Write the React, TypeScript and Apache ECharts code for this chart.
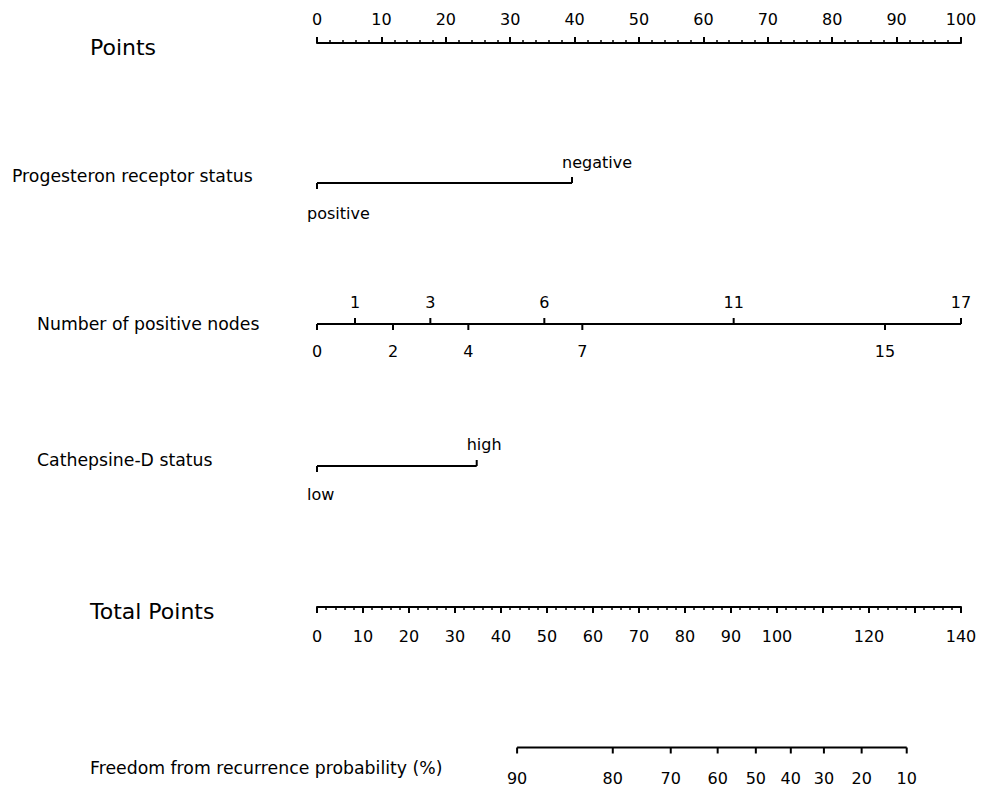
import React, { useEffect, useRef } from "react";
import * as echarts from "echarts";

const FONT = '"DejaVu Sans", sans-serif';

// ---- data ----
const pointsMin = 0;
const pointsMax = 100;
const totalMin = 0;
const totalMax = 140;
const totalHiddenLabels = [110, 130];

const prLevels = ["positive", "negative"];
const prPoints = [0, 39.6];
const prSide = [-1, 1];

const nodeLevels = ["0", "1", "2", "3", "4", "6", "7", "11", "15", "17"];
const nodePoints = [0, 5.9, 11.8, 17.6, 23.5, 35.3, 41.2, 64.7, 88.2, 100];
const nodeSide = [-1, 1, -1, 1, -1, 1, -1, 1, -1, 1];

const cathLevels = ["low", "high"];
const cathPoints = [0, 24.8];
const cathSide = [-1, 1];

const freedomLevels = ["90", "80", "70", "60", "50", "40", "30", "20", "10"];
const freedomTotals = [43.5, 64.3, 76.9, 87.1, 95.4, 103.0, 110.2, 118.4, 128.2];
const freedomSide = [-1, -1, -1, -1, -1, -1, -1, -1, -1];

const rowTitles = [
  { text: "Points", x: 90, y: 47, size: 22 },
  { text: "Progesteron receptor status", x: 12, y: 176, size: 17.3 },
  { text: "Number of positive nodes", x: 37, y: 324, size: 17.3 },
  { text: "Cathepsine-D status", x: 37, y: 460, size: 17.3 },
  { text: "Total Points", x: 90, y: 611, size: 22 },
  { text: "Freedom from recurrence probability (%)", x: 90, y: 768, size: 17.3 },
];

export default function App() {
  const ref = useRef<HTMLDivElement>(null);

  useEffect(() => {
    const chart = echarts.init(ref.current!, null, { renderer: "svg" });
    const left = 317;
    const right = 988 - 961;
    const lineYs = [43, 183, 324, 466, 607, 747.5];

    const grids = lineYs.map((y, i) =>
      i === 0
        ? { left, right, top: y, height: 10 }
        : { left, right, top: y - 10, height: 10 }
    );

    const hiddenX = (gi: number, max: number) => ({
      type: "value",
      gridIndex: gi,
      min: 0,
      max,
      show: false,
    });

    const xAxes: any[] = [
      {
        type: "value",
        gridIndex: 0,
        position: "top",
        min: pointsMin,
        max: pointsMax,
        interval: 10,
        axisLine: { show: true, onZero: false, lineStyle: { color: "#000", width: 2 } },
        axisTick: { show: true, length: 6, lineStyle: { color: "#000", width: 2 } },
        minorTick: { show: true, splitNumber: 5, length: 3, lineStyle: { color: "#000", width: 1.5 } },
        axisLabel: { color: "#000", fontFamily: FONT, fontSize: 16, margin: 16 },
        splitLine: { show: false },
      },
      hiddenX(1, pointsMax),
      hiddenX(2, pointsMax),
      hiddenX(3, pointsMax),
      {
        type: "value",
        gridIndex: 4,
        position: "bottom",
        min: totalMin,
        max: totalMax,
        interval: 10,
        axisLine: { show: true, onZero: false, lineStyle: { color: "#000", width: 2 } },
        axisTick: { show: true, length: 6, lineStyle: { color: "#000", width: 2 } },
        minorTick: { show: true, splitNumber: 5, length: 3, lineStyle: { color: "#000", width: 1.5 } },
        axisLabel: {
          color: "#000",
          fontFamily: FONT,
          fontSize: 16,
          margin: 21,
          formatter: (v: number) => (totalHiddenLabels.includes(v) ? "" : String(v)),
        },
        splitLine: { show: false },
      },
      hiddenX(5, totalMax),
    ];

    const yAxes = lineYs.map((_, i) => ({
      type: "value",
      gridIndex: i,
      min: 0,
      max: 1,
      show: false,
    }));

    const makeRow = (
      gi: number,
      levels: string[],
      xs: number[],
      sides: number[],
      align: "left" | "center",
      upOff: number,
      downOff: number
    ) => {
      const lineSeries = {
        type: "line",
        xAxisIndex: gi,
        yAxisIndex: gi,
        data: [
          [Math.min(...xs), 0],
          [Math.max(...xs), 0],
        ],
        symbol: "none",
        clip: false,
        silent: true,
        lineStyle: { color: "#000", width: 2 },
      };
      const customSeries = {
        type: "custom",
        xAxisIndex: gi,
        yAxisIndex: gi,
        clip: false,
        silent: true,
        data: xs.map((x, i) => [x, sides[i]]),
        renderItem: (params: any, api: any) => {
          const i = params.dataIndex;
          const p = api.coord([api.value(0), 0]);
          const dir = api.value(1);
          const ty = dir > 0 ? p[1] - 6 : p[1] + 6;
          const ly = dir > 0 ? p[1] + upOff : p[1] + downOff;
          return {
            type: "group",
            children: [
              {
                type: "line",
                shape: { x1: p[0], y1: p[1], x2: p[0], y2: ty },
                style: { stroke: "#000", lineWidth: 2 },
              },
              {
                type: "text",
                style: {
                  text: levels[i],
                  x: align === "left" ? p[0] - 10 : p[0],
                  y: ly,
                  align,
                  verticalAlign: "middle",
                  fill: "#000",
                  fontFamily: FONT,
                  fontSize: 16,
                },
              },
            ],
          };
        },
      };
      return [lineSeries, customSeries];
    };

    const series: any[] = [
      ...makeRow(1, prLevels, prPoints, prSide, "left", -21, 30),
      ...makeRow(2, nodeLevels, nodePoints, nodeSide, "center", -22, 27),
      ...makeRow(3, cathLevels, cathPoints, cathSide, "left", -22, 28),
      ...makeRow(5, freedomLevels, freedomTotals, freedomSide, "center", -22, 31),
    ];

    chart.setOption({
      animation: false,
      backgroundColor: "#fff",
      grid: grids,
      xAxis: xAxes,
      yAxis: yAxes,
      series,
      graphic: rowTitles.map((t) => ({
        type: "text",
        x: t.x,
        y: t.y,
        style: {
          text: t.text,
          fill: "#000",
          fontFamily: FONT,
          fontSize: t.size,
          verticalAlign: "middle",
          align: "left",
        },
      })),
    });

    return () => chart.dispose();
  }, []);

  return (
    <div
      ref={ref}
      style={{ position: "fixed", left: 0, top: 0, width: 988, height: 788, background: "#fff" }}
    />
  );
}
